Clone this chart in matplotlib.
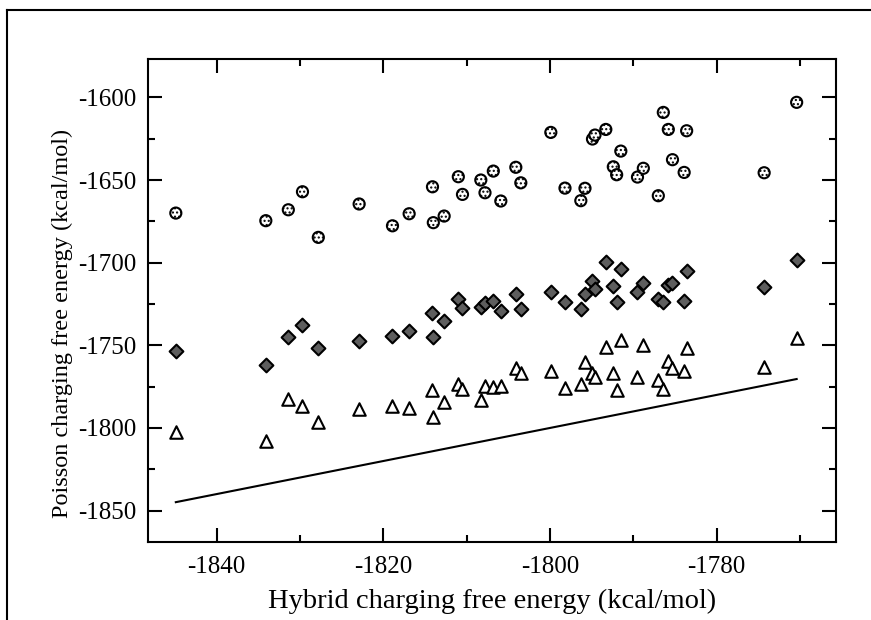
import matplotlib
matplotlib.use('Agg')
import matplotlib.pyplot as plt
from matplotlib.lines import Line2D
import numpy as np

# hybrid charging free energy (x), one value per compound
hybrid = [-1844.9, -1834.1, -1831.4, -1829.7, -1827.8, -1822.9, -1818.9, -1816.9,
          -1814.1, -1814.0, -1812.7, -1811.0, -1810.5, -1808.3, -1807.8, -1806.8,
          -1805.9, -1804.1, -1803.5, -1799.9, -1798.2, -1796.3, -1795.8, -1794.9,
          -1794.6, -1793.3, -1792.4, -1792.0, -1791.5, -1789.5, -1788.8, -1787.0,
          -1786.4, -1785.8, -1785.3, -1783.9, -1783.6, -1774.3, -1770.4]

# poisson charging free energies, three variants
poisson_circ = [-1670.0, -1674.6, -1668.0, -1657.1, -1684.7, -1664.5, -1677.7, -1670.4,
                -1654.1, -1675.8, -1671.8, -1648.0, -1658.7, -1650.0, -1657.7, -1644.6,
                -1662.7, -1642.3, -1651.7, -1621.2, -1654.9, -1662.5, -1655.0, -1625.2,
                -1622.8, -1619.4, -1642.0, -1646.8, -1632.5, -1648.2, -1642.9, -1659.5,
                -1609.1, -1619.4, -1637.7, -1645.4, -1620.2, -1645.6, -1603.0]

poisson_diam = [-1753.5, -1761.9, -1745.0, -1737.9, -1751.8, -1747.2, -1744.2, -1741.5,
                -1730.5, -1745.0, -1735.1, -1722.2, -1727.4, -1726.7, -1724.2, -1723.2,
                -1729.3, -1719.0, -1728.0, -1717.6, -1723.8, -1727.9, -1719.0, -1710.9,
                -1715.9, -1699.4, -1714.0, -1723.8, -1703.7, -1717.9, -1712.1, -1722.2,
                -1723.6, -1713.5, -1712.5, -1723.2, -1705.1, -1714.9, -1698.2]

poisson_tri = [-1802.3, -1807.9, -1782.5, -1786.5, -1796.2, -1788.7, -1786.7, -1787.7,
               -1777.0, -1793.2, -1784.5, -1773.6, -1776.6, -1783.1, -1774.4, -1775.0,
               -1774.6, -1763.7, -1766.6, -1765.5, -1776.0, -1773.6, -1759.9, -1766.9,
               -1769.0, -1750.8, -1766.9, -1776.9, -1746.8, -1769.0, -1750.0, -1770.8,
               -1776.6, -1759.5, -1763.9, -1765.4, -1751.8, -1763.1, -1745.8]

plt.rcParams['font.family'] = ['Liberation Serif', 'DejaVu Serif']
plt.rcParams['axes.unicode_minus'] = False
plt.rcParams['hatch.linewidth'] = 1.0

fig = plt.figure(figsize=(8.71, 6.2), dpi=100)
ax = fig.add_axes([0.1699, 0.1258, 0.7899, 0.779])

# y = x reference line
diag = [min(hybrid), max(hybrid)]
ax.plot(diag, diag, color='black', lw=1.5)

ax.scatter(hybrid, poisson_circ, s=8**2, marker='o', facecolor='white',
           edgecolor='black', linewidths=1.5, hatch='....', zorder=3)
ax.scatter(hybrid, poisson_diam, s=7**2, marker='D', facecolor='#5e5e5e',
           edgecolor='black', linewidths=1.5, zorder=3)
ax.scatter(hybrid, poisson_tri, s=9**2, marker='^', facecolor='white',
           edgecolor='black', linewidths=1.5, zorder=3)

ax.set_xlim(-1848.24, -1765.68)
ax.set_ylim(-1869.0, -1576.8)
ax.set_xticks([-1840, -1820, -1800, -1780])
ax.set_xticks([-1830, -1810, -1790, -1770], minor=True)
ax.set_yticks([-1850, -1800, -1750, -1700, -1650, -1600])
ax.set_yticks([-1825, -1775, -1725, -1675, -1625], minor=True)
ax.tick_params(which='both', direction='in', top=True, right=True, width=1.5,
               labelsize=18)
ax.tick_params(which='major', length=10)
ax.tick_params(axis='x', which='major', pad=10)
ax.tick_params(axis='y', which='major', pad=8)
ax.tick_params(which='minor', length=5)
for sp in ax.spines.values():
    sp.set_linewidth(1.5)

ax.set_xlabel('Hybrid charging free energy (kcal/mol)', fontsize=20.5, labelpad=8)
ax.set_ylabel('Poisson charging free energy (kcal/mol)', fontsize=17.5, labelpad=4)
ax.yaxis.label.set_y(0.453)

# outer frame, cut off at the right and bottom edges
fig.add_artist(Line2D([7 / 871, 1.0], [1 - 10 / 620, 1 - 10 / 620],
                      color='black', lw=1.5, transform=fig.transFigure))
fig.add_artist(Line2D([7 / 871, 7 / 871], [0.0, 1 - 10 / 620],
                      color='black', lw=1.5, transform=fig.transFigure))

fig.savefig('out.png', dpi=100)
